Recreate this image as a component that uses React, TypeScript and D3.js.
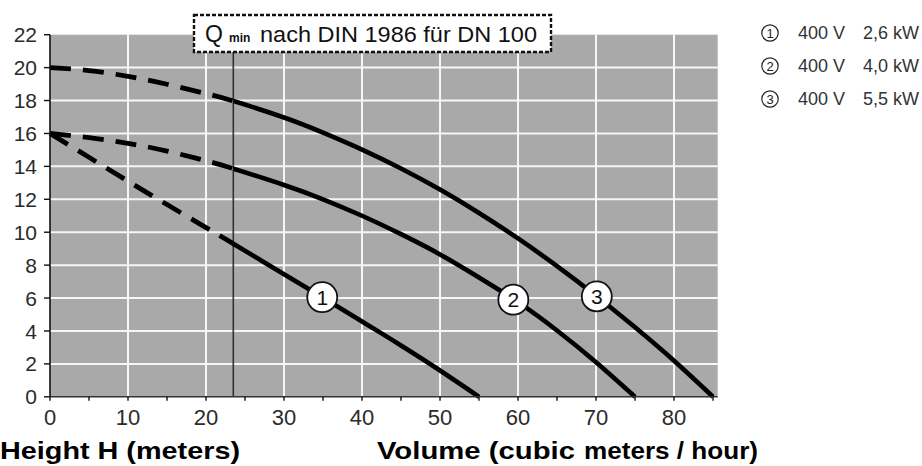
import React from "react";
import * as d3 from "d3";

// ---- data ----
const xTicks = [0, 10, 20, 30, 40, 50, 60, 70, 80];
const xMinorTicks = [0, 5, 10, 15, 20, 25, 30, 35, 40, 45, 50, 55, 60, 65, 70, 75, 80, 85];
const yTicks = [0, 2, 4, 6, 8, 10, 12, 14, 16, 18, 20, 22];
const gridX = [10, 20, 30, 40, 50, 60, 70, 80];
const gridY = [2, 4, 6, 8, 10, 12, 14, 16, 18, 20];

const qMin = 23.5;

const curve1Flow = [0, 5, 10, 15, 20, 23.5, 30, 35, 40, 45, 50, 55];
const curve1Head = [16, 14.55, 13.1, 11.68, 10.28, 9.3, 7.45, 6.02, 4.58, 3.12, 1.6, 0];

const curve2Flow = [0, 5, 10, 15, 20, 23.5, 30, 35, 40, 45, 50, 55, 60, 65, 70, 75];
const curve2Head = [16, 15.75, 15.4, 14.93, 14.34, 13.86, 12.87, 12.0, 11.0, 9.88, 8.65, 7.25, 5.75, 4.03, 2.1, 0];

const curve3Flow = [0, 5, 10, 15, 20, 23.5, 30, 35, 40, 45, 50, 55, 60, 65, 70, 75, 80, 85];
const curve3Head = [20, 19.82, 19.47, 18.99, 18.42, 17.97, 16.97, 16.05, 15.02, 13.87, 12.59, 11.17, 9.62, 7.94, 6.14, 4.22, 2.19, 0];

const curveLabels = ["1", "2", "3"];
const labelFlow = [34.9, 59.4, 70.1];
const labelHead = [6.05, 5.9, 6.1];

const legendNumbers = ["1", "2", "3"];
const legendVoltage = ["400 V", "400 V", "400 V"];
const legendPower = ["2,6 kW", "4,0 kW", "5,5 kW"];

const boxLabelMain = "Q";
const boxLabelSub = "min";
const boxLabelRest = "nach DIN 1986 für DN 100";
const yTitle = "Height H (meters)";
const xTitleA = "Volume (cubic";
const xTitleB = "meters / hour)";

const curves = [
  { flow: curve1Flow, head: curve1Head },
  { flow: curve2Flow, head: curve2Head },
  { flow: curve3Flow, head: curve3Head },
];

export default function App() {
  const W = 922;
  const H = 466;
  const x = d3.scaleLinear().domain([0, 85.6]).range([50, 717.7]);
  const y = d3.scaleLinear().domain([0, 22]).range([396.8, 34.7]);
  const [x0, x1] = x.range();
  const [yb, yt] = y.range();

  const line = d3
    .line<[number, number]>()
    .x((d) => x(d[0]))
    .y((d) => y(d[1]))
    .curve(d3.curveNatural);

  const font = "'Liberation Sans', Arial, Helvetica, sans-serif";
  const textColor = "#2b2b2b";
  const xq = x(qMin);

  return (
    <svg
      width={W}
      height={H}
      viewBox={`0 0 ${W} ${H}`}
      style={{ position: "absolute", left: 0, top: 0, background: "#fff" }}
      fontFamily={font}
    >
      <defs>
        <clipPath id="leftOfQ">
          <rect x={0} y={0} width={xq} height={H} />
        </clipPath>
        <clipPath id="rightOfQ">
          <rect x={xq} y={0} width={W - xq} height={H} />
        </clipPath>
      </defs>
      <rect x={0} y={0} width={W} height={H} fill="#fff" />
      {/* plot background */}
      <rect x={x0} y={yt} width={x1 - x0} height={yb - yt} fill="#a9a9a9" />
      {/* grid */}
      {gridX.map((v) => (
        <line key={"gx" + v} x1={x(v)} x2={x(v)} y1={yt} y2={yb} stroke="#f6f6f6" strokeWidth={2} />
      ))}
      {gridY.map((v) => (
        <line key={"gy" + v} x1={x0} x2={x1} y1={y(v)} y2={y(v)} stroke="#f6f6f6" strokeWidth={2} />
      ))}

      {/* Q min vertical line */}
      <line x1={xq} x2={xq} y1={52} y2={yb} stroke="#333" strokeWidth={1.6} />

      {/* curves: dashed below Q min, solid above */}
      {curves.map((c, i) => {
        const pts: [number, number][] = c.flow.map((f, j) => [f, c.head[j]]);
        const d = line(pts) || "";
        return (
          <g key={"c" + i}>
            <path d={d} fill="none" stroke="#000" strokeWidth={4.8} strokeDasharray="21 12" clipPath="url(#leftOfQ)" />
            <path d={d} fill="none" stroke="#000" strokeWidth={4.6} clipPath="url(#rightOfQ)" />
          </g>
        );
      })}

      {/* curve labels */}
      {curveLabels.map((t, i) => (
        <g key={"cl" + i} transform={`translate(${x(labelFlow[i])},${y(labelHead[i])})`}>
          <circle r={15} fill="#fff" stroke="#111" strokeWidth={1.8} />
          <text textAnchor="middle" dy="0.36em" fontSize={21} fill="#111">
            {t}
          </text>
        </g>
      ))}

      {/* axes */}
      <line x1={x0} x2={x0} y1={yt} y2={yb} stroke="#111" strokeWidth={1.6} />
      <line x1={x0} x2={x1} y1={yb} y2={yb} stroke="#333" strokeWidth={1.4} />
      {yTicks.map((v) => (
        <g key={"yt" + v}>
          <line x1={x0 - 6} x2={x0} y1={y(v)} y2={y(v)} stroke="#111" strokeWidth={1.4} />
          <text x={37} y={y(v)} dy="0.36em" textAnchor="end" fontSize={21} fill={textColor}>
            {v}
          </text>
        </g>
      ))}
      {xMinorTicks.map((v) => (
        <line key={"xm" + v} x1={x(v)} x2={x(v)} y1={yb} y2={yb + 4} stroke="#111" strokeWidth={1.4} />
      ))}
      {xTicks.map((v) => (
        <text key={"xt" + v} x={x(v)} y={425} textAnchor="middle" fontSize={22} fill={textColor}>
          {v}
        </text>
      ))}

      {/* Q min box */}
      <rect x={194} y={15} width={357} height={37} fill="#fff" stroke="#111" strokeWidth={2.4} strokeDasharray="4 2" />
      <text x={205} y={42} fontSize={23} fill="#111">
        {boxLabelMain}
      </text>
      <text x={229} y={42} fontSize={12} fontWeight="bold" fill="#111">
        {boxLabelSub}
      </text>
      <text x={260} y={42} fontSize={21.5} fill="#111" textLength={277} lengthAdjust="spacingAndGlyphs">
        {boxLabelRest}
      </text>

      {/* legend */}
      {legendNumbers.map((n, i) => {
        const cy = 33 + i * 33;
        return (
          <g key={"lg" + i}>
            <circle cx={770} cy={cy} r={8.2} fill="none" stroke="#222" strokeWidth={1.2} />
            <text x={770} y={cy} dy="0.36em" textAnchor="middle" fontSize={13} fill="#222">
              {n}
            </text>
            <text x={798} y={cy + 6} fontSize={18} fill="#333">
              {legendVoltage[i]}
            </text>
            <text x={863} y={cy + 6} fontSize={18} fill="#333">
              {legendPower[i]}
            </text>
          </g>
        );
      })}

      {/* axis titles */}
      <text x={0} y={459} fontSize={24.5} fontWeight="bold" fill="#000" textLength={240} lengthAdjust="spacingAndGlyphs">
        {yTitle}
      </text>
      <text x={377} y={459} fontSize={24.5} fontWeight="bold" fill="#000" textLength={198} lengthAdjust="spacingAndGlyphs">
        {xTitleA}
      </text>
      <text x={584} y={459} fontSize={23} fontWeight="bold" fill="#000" textLength={174} lengthAdjust="spacingAndGlyphs">
        {xTitleB}
      </text>
    </svg>
  );
}
